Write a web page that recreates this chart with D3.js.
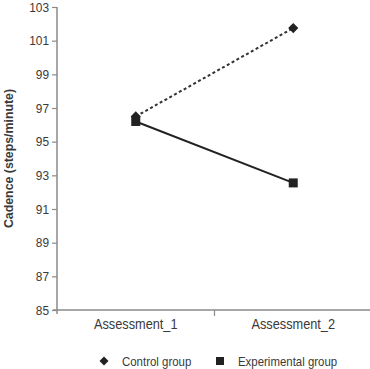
<!DOCTYPE html>
<html>
<head>
<meta charset="utf-8">
<script src="https://cdn.jsdelivr.net/npm/d3@7"></script>
<style>
  body { margin: 0; background: #fff; }
  svg { display: block; font-family: "Liberation Sans", Arial, sans-serif; }
</style>
</head>
<body>
<svg></svg>
<script>
// chart data
const categories = ["Assessment_1", "Assessment_2"];
const controlValues = [96.5, 101.75];
const experimentalValues = [96.2, 92.55];
const yTicks = [85, 87, 89, 91, 93, 95, 97, 99, 101, 103];
const seriesNames = ["Control group", "Experimental group"];

const width = 370;
const height = 369;
const margin = { left: 57, right: -2, top: 7, bottom: 59 };
const squeeze = 0.88; // the original uses a condensed face

const svg = d3.select("svg")
    .attr("width", width)
    .attr("height", height);

// scales
const xScale = d3.scaleBand()
    .domain(categories)
    .range([margin.left, width - margin.right]);

const yScale = d3.scaleLinear()
    .domain([85, 103])
    .range([height - margin.bottom, margin.top]);

const axisColor = "#8a8a8a";
const textColor = "#3a3a3a";

// helper: a text placed at x,y and squeezed horizontally
function narrowText(parent, x, y, str, size, anchor) {
    return parent.append("g")
        .attr("transform", `translate(${x},${y}) scale(${squeeze},1)`)
        .append("text")
        .attr("text-anchor", anchor || "start")
        .attr("fill", textColor)
        .style("font-size", size + "px")
        .text(str);
}

// y axis
const yAxis = d3.axisLeft(yScale)
    .tickValues(yTicks)
    .tickSize(5)
    .tickPadding(4);

const yG = svg.append("g")
    .attr("transform", `translate(${margin.left},0)`)
    .call(yAxis);
yG.select(".domain").attr("stroke", axisColor).attr("stroke-width", 1.5)
    .attr("d", `M0,${yScale(103)}V${yScale(85) + 4}`);
yG.selectAll(".tick line").attr("stroke", axisColor).attr("stroke-width", 1.2);
yG.selectAll(".tick text")
    .attr("fill", textColor)
    .style("font-size", "13.5px")
    .attr("transform", `scale(${squeeze},1)`)
    .attr("x", -8 / squeeze);

// x axis
const xG = svg.append("g")
    .attr("transform", `translate(0,${yScale(85)})`);
xG.append("line")
    .attr("x1", margin.left - 4).attr("x2", width)
    .attr("stroke", axisColor).attr("stroke-width", 1.5);
xG.append("line")
    .attr("x1", xScale(categories[1])).attr("x2", xScale(categories[1]))
    .attr("y1", 0).attr("y2", 6)
    .attr("stroke", axisColor).attr("stroke-width", 1.2);
categories.forEach(c => {
    narrowText(xG, xScale(c) + xScale.bandwidth() / 2, 19, c, 14.5, "middle");
});

// y axis title
svg.append("g")
    .attr("transform", `translate(13,${(yScale(85) + yScale(103)) / 2}) rotate(-90) scale(0.95,1)`)
    .append("text")
    .attr("text-anchor", "middle")
    .attr("font-weight", "bold")
    .attr("fill", textColor)
    .style("font-size", "13px")
    .text("Cadence (steps/minute)");

const line = d3.line()
    .x((d, i) => xScale(categories[i]) + xScale.bandwidth() / 2)
    .y(d => yScale(d));

// control group (dashed, diamonds)
svg.append("path")
    .datum(controlValues)
    .attr("d", line)
    .attr("fill", "none")
    .attr("stroke", "#333")
    .attr("stroke-width", 2)
    .attr("stroke-dasharray", "3,2.5");

// experimental group (solid, squares)
svg.append("path")
    .datum(experimentalValues)
    .attr("d", line)
    .attr("fill", "none")
    .attr("stroke", "#222")
    .attr("stroke-width", 2);

const sq = 9;

svg.selectAll("rect.exp")
    .data(experimentalValues)
    .enter()
    .append("rect")
    .attr("class", "exp")
    .attr("x", (d, i) => xScale(categories[i]) + xScale.bandwidth() / 2 - sq / 2)
    .attr("y", d => yScale(d) - sq / 2)
    .attr("width", sq)
    .attr("height", sq)
    .attr("fill", "#222");

// diamonds are squares turned by 45 degrees
svg.selectAll("rect.ctrl")
    .data(controlValues)
    .enter()
    .append("rect")
    .attr("class", "ctrl")
    .attr("x", -3.6).attr("y", -3.6)
    .attr("width", 7.2).attr("height", 7.2)
    .attr("transform", (d, i) => `translate(${xScale(categories[i]) + xScale.bandwidth() / 2},${yScale(d)}) rotate(45)`)
    .attr("fill", "#222");

// legend at the bottom
const legend = svg.append("g").attr("transform", "translate(0,362)");
legend.append("rect")
    .attr("x", -3.2).attr("y", -3.2)
    .attr("width", 6.4).attr("height", 6.4)
    .attr("transform", "translate(104,-1) rotate(45)")
    .attr("fill", "#222");
narrowText(legend, 122, 4, seriesNames[0], 13);
legend.append("rect")
    .attr("x", 216).attr("y", -5)
    .attr("width", 8).attr("height", 8)
    .attr("fill", "#222");
narrowText(legend, 238, 4, seriesNames[1], 13);
</script>
</body>
</html>
